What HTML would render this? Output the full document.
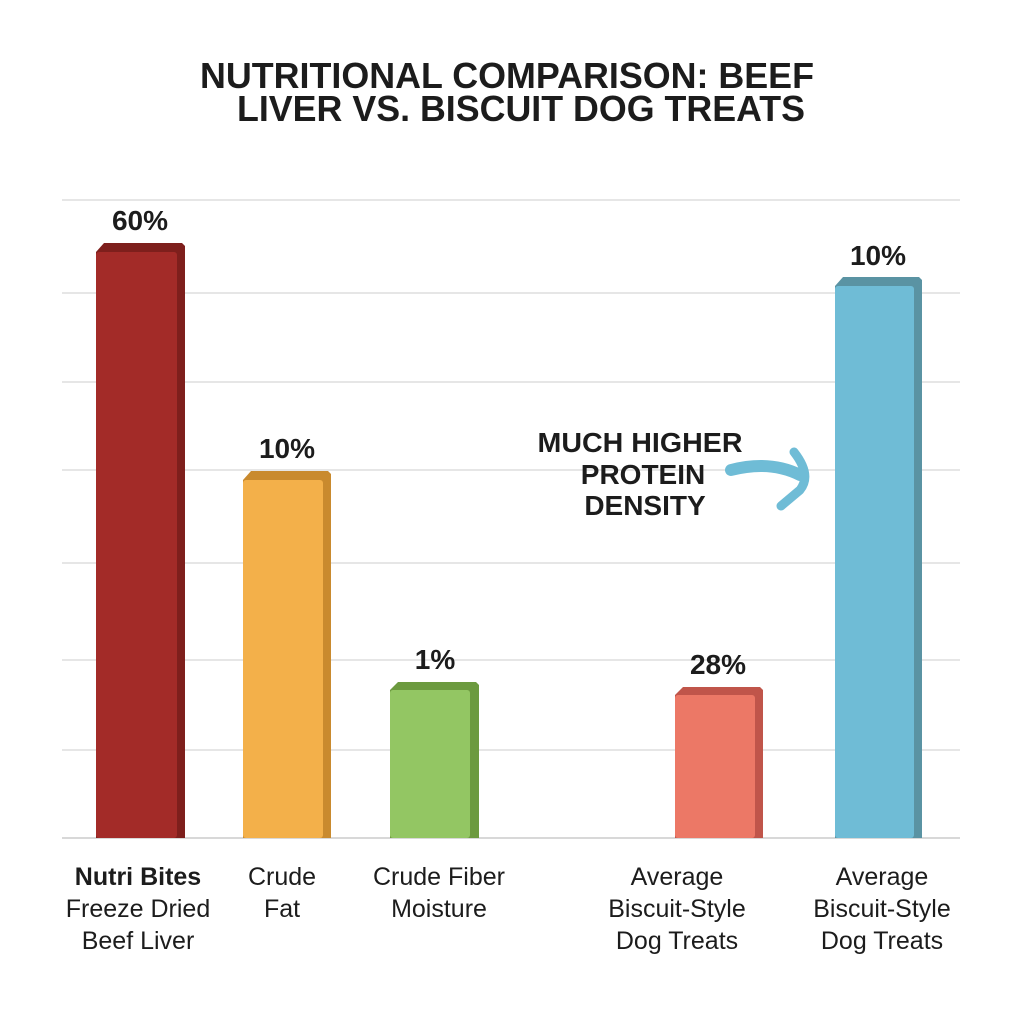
<!DOCTYPE html>
<html><head><style>
body{margin:0;background:#fff;}
svg{display:block;font-family:"Liberation Sans",sans-serif;}
</style></head><body>
<svg width="1024" height="1024" viewBox="0 0 1024 1024">
<rect width="1024" height="1024" fill="#fff"/>
<g font-weight="bold" font-size="36" fill="#1c1c1c" text-anchor="middle">
<text x="507" y="88" textLength="614" lengthAdjust="spacingAndGlyphs">NUTRITIONAL COMPARISON: BEEF</text>
<text x="521" y="121" textLength="568" lengthAdjust="spacingAndGlyphs">LIVER VS. BISCUIT DOG TREATS</text>
</g>
<g stroke="#e6e6e6" stroke-width="2">
<line x1="62" x2="960" y1="200" y2="200"/>
<line x1="62" x2="960" y1="293" y2="293"/>
<line x1="62" x2="960" y1="382" y2="382"/>
<line x1="62" x2="960" y1="470" y2="470"/>
<line x1="62" x2="960" y1="563" y2="563"/>
<line x1="62" x2="960" y1="660" y2="660"/>
<line x1="62" x2="960" y1="750" y2="750"/>
</g>
<line x1="62" x2="960" y1="838" y2="838" stroke="#d8d8d8" stroke-width="2"/>
<g>
<path d="M96 252 L104 243 L182 243 L185 246 L185 838 L96 838Z" fill="#7e1f1c"/>
<rect x="96" y="252" width="81" height="586" fill="#a32b28" rx="3"/>
<path d="M243 480 L251 471 L328 471 L331 474 L331 838 L243 838Z" fill="#c98a2e"/>
<rect x="243" y="480" width="80" height="358" fill="#f3b04a" rx="3"/>
<path d="M390 690 L398 682 L476 682 L479 685 L479 838 L390 838Z" fill="#6c9a3f"/>
<rect x="390" y="690" width="80" height="148" fill="#93c663" rx="3"/>
<path d="M675 695 L683 687 L760 687 L763 690 L763 838 L675 838Z" fill="#c0554a"/>
<rect x="675" y="695" width="80" height="143" fill="#ec7866" rx="3"/>
<path d="M835 286 L843 277 L919 277 L922 280 L922 838 L835 838Z" fill="#5a93a3"/>
<rect x="835" y="286" width="79" height="552" fill="#6fbcd6" rx="3"/>
</g>
<g font-weight="bold" font-size="28" fill="#1c1c1c" text-anchor="middle">
<text x="140" y="230">60%</text>
<text x="287" y="458">10%</text>
<text x="435" y="669">1%</text>
<text x="718" y="674">28%</text>
<text x="878" y="265">10%</text>
</g>
<g font-weight="bold" font-size="28" fill="#1c1c1c" text-anchor="middle">
<text x="640" y="452" textLength="205" lengthAdjust="spacingAndGlyphs">MUCH HIGHER</text>
<text x="643" y="484">PROTEIN</text>
<text x="645" y="515">DENSITY</text>
</g>
<path d="M731 470 Q770 460 800 475" stroke="#6fbcd6" stroke-width="12" fill="none" stroke-linecap="round"/>
<path d="M794 452 Q812 475 800 490 L781 506" stroke="#6fbcd6" stroke-width="9" fill="none" stroke-linecap="round" stroke-linejoin="round"/>
<g font-size="25" fill="#1c1c1c" text-anchor="middle">
<text x="138" y="885" font-weight="bold">Nutri Bites</text>
<text x="138" y="917">Freeze Dried</text>
<text x="138" y="949">Beef Liver</text>
<text x="282" y="885">Crude</text>
<text x="282" y="917">Fat</text>
<text x="439" y="885">Crude Fiber</text>
<text x="439" y="917">Moisture</text>
<text x="677" y="885">Average</text>
<text x="677" y="917">Biscuit-Style</text>
<text x="677" y="949">Dog Treats</text>
<text x="882" y="885">Average</text>
<text x="882" y="917">Biscuit-Style</text>
<text x="882" y="949">Dog Treats</text>
</g>
</svg>
</body></html>
